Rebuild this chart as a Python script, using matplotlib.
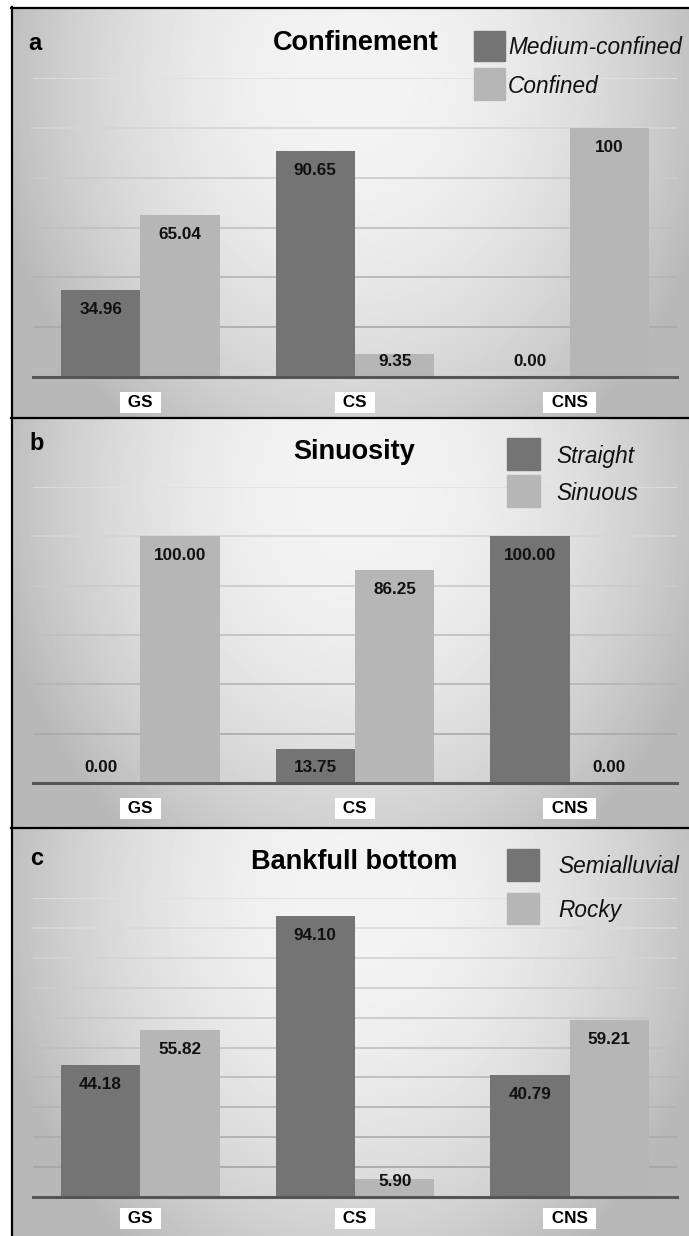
import numpy as np
import matplotlib.pyplot as plt
from matplotlib.patches import Rectangle

plt.rcParams['font.family'] = ['Liberation Sans', 'DejaVu Sans']

# +

# Data
groups = ['GS', 'CS', 'CNS']

conf_medium = [34.96, 90.65, 0.00]
conf_confined = [65.04, 9.35, 100]
conf_medium_lbl = ['34.96', '90.65', '0.00']
conf_confined_lbl = ['65.04', '9.35', '100']

sin_straight = [0.00, 13.75, 100.00]
sin_sinuous = [100.00, 86.25, 0.00]
sin_straight_lbl = ['0.00', '13.75', '100.00']
sin_sinuous_lbl = ['100.00', '86.25', '0.00']

bank_semi = [44.18, 94.10, 40.79]
bank_rocky = [55.82, 5.90, 59.21]
bank_semi_lbl = ['44.18', '94.10', '40.79']
bank_rocky_lbl = ['55.82', '5.90', '59.21']

# +

W, H = 689, 1236
DARK = '#747474'
LIGHT = '#b6b6b6'

fig = plt.figure(figsize=(W / 100, H / 100), dpi=100)
fig.patch.set_facecolor('white')

bg = fig.add_axes([0, 0, 1, 1], zorder=-1)
bg.axis('off')

panel_edges = [(8, 418), (418, 828), (828, H)]

# gradient background for each panel
for top, bottom in panel_edges:
    yy, xx = np.mgrid[top:bottom, 12:W] + 0.5
    cy = top + 0.18 * (bottom - top)
    r2 = ((xx - 355) / 380.0) ** 2 + ((yy - cy) / (1.1 * (bottom - top))) ** 2
    val = np.clip(0.955 - 0.25 * r2, 0.72, 1)
    bg.imshow(val, cmap='gray', vmin=0, vmax=1, extent=(12, W, bottom, top),
              aspect='auto', interpolation='bilinear')

bg.plot([12, 12], [7, H], color='black', lw=1.6)
for y in [8, 418, 828]:
    bg.plot([11, W], [y, y], color='black', lw=1.6)
bg.set_xlim(0, W)
bg.set_ylim(H, 0)

# overlay for titles and legends, drawn above the gridlines
ov = fig.add_axes([0, 0, 1, 1], zorder=5)
ov.axis('off')
ov.set_xlim(0, W)
ov.set_ylim(H, 0)

# +

panels = [
    dict(letter='a', title='Confinement', s1=conf_medium, s2=conf_confined,
         l1=conf_medium_lbl, l2=conf_confined_lbl, names=['Medium-confined', 'Confined'],
         top=78, base=377, ymax=120, step=20, cat_off=30,
         title_xy=(356, 50), letter_xy=(35, 50),
         sw=[(474, 31, 31, 30), (474, 68, 31, 32)], tx=508, tb=[54, 93]),
    dict(letter='b', title='Sinuosity', s1=sin_straight, s2=sin_sinuous,
         l1=sin_straight_lbl, l2=sin_sinuous_lbl, names=['Straight', 'Sinuous'],
         top=487, base=783, ymax=120, step=20, cat_off=30,
         title_xy=(354, 459), letter_xy=(37, 450),
         sw=[(507, 438, 33, 32), (507, 475, 33, 32)], tx=556, tb=[463, 500]),
    dict(letter='c', title='Bankfull bottom', s1=bank_semi, s2=bank_rocky,
         l1=bank_semi_lbl, l2=bank_rocky_lbl, names=['Semialluvial', 'Rocky'],
         top=898, base=1197, ymax=100, step=10, cat_off=26,
         title_xy=(354, 869), letter_xy=(37, 865),
         sw=[(507, 849, 32, 32), (507, 893, 32, 31)], tx=558, tb=[873, 917]),
]

x = np.arange(len(groups))
w = 0.37

for p in panels:
    ax = fig.add_axes([33 / W, 1 - p['base'] / H, 644 / W, (p['base'] - p['top']) / H])
    ax.set_facecolor('none')
    for s in ax.spines.values():
        s.set_visible(False)
    ax.set_xticks([])
    ax.set_yticks([])
    ax.set_xlim(-0.5, len(groups) - 0.5)
    ax.set_ylim(0, p['ymax'])
    ppu = (p['base'] - p['top']) / p['ymax']

    # gridlines get lighter towards the top
    for g in np.arange(p['step'], p['ymax'] + 1, p['step']):
        c = 0.62 + 0.26 * g / p['ymax']
        ax.axhline(g, color=(c, c, c), lw=1.2, zorder=0.5)
    ax.axhline(0, color='#555555', lw=2.2, zorder=3, clip_on=False)

    ax.bar(x - w / 2, p['s1'], w, color=DARK, zorder=2)
    ax.bar(x + w / 2, p['s2'], w, color=LIGHT, zorder=2)

    for xs, vals, lbls in [(x - w / 2, p['s1'], p['l1']), (x + w / 2, p['s2'], p['l2'])]:
        for xi, v, lb in zip(xs, vals, lbls):
            y = max(v - 24 / ppu, 11 / ppu)
            ax.text(xi, y, lb, ha='center', va='baseline', fontsize=12.3,
                    fontweight='bold', color='#111111', zorder=4)

    for xi, g in zip(x, groups):
        ax.text(xi, -p['cat_off'] / ppu, ' ' + g + ' ', ha='center', va='baseline',
                fontsize=12.3, fontweight='bold', color='black', clip_on=False,
                bbox=dict(boxstyle='square,pad=0.2', fc='white', ec='none'))

    ov.text(*p['title_xy'], p['title'], ha='center', va='baseline',
            fontsize=19.5, fontweight='bold', color='black')
    ov.text(*p['letter_xy'], p['letter'], ha='center', va='baseline',
            fontsize=17, fontweight='bold', color='black')

    for (sx, sy, sw_, sh), col, name, tb in zip(p['sw'], [DARK, LIGHT], p['names'], p['tb']):
        ov.add_patch(Rectangle((sx, sy), sw_, sh, color=col))
        ov.text(p['tx'], tb, name, ha='left', va='baseline', fontsize=16.3,
                style='italic', color='#111111')

fig.savefig('out.png', dpi=100)
